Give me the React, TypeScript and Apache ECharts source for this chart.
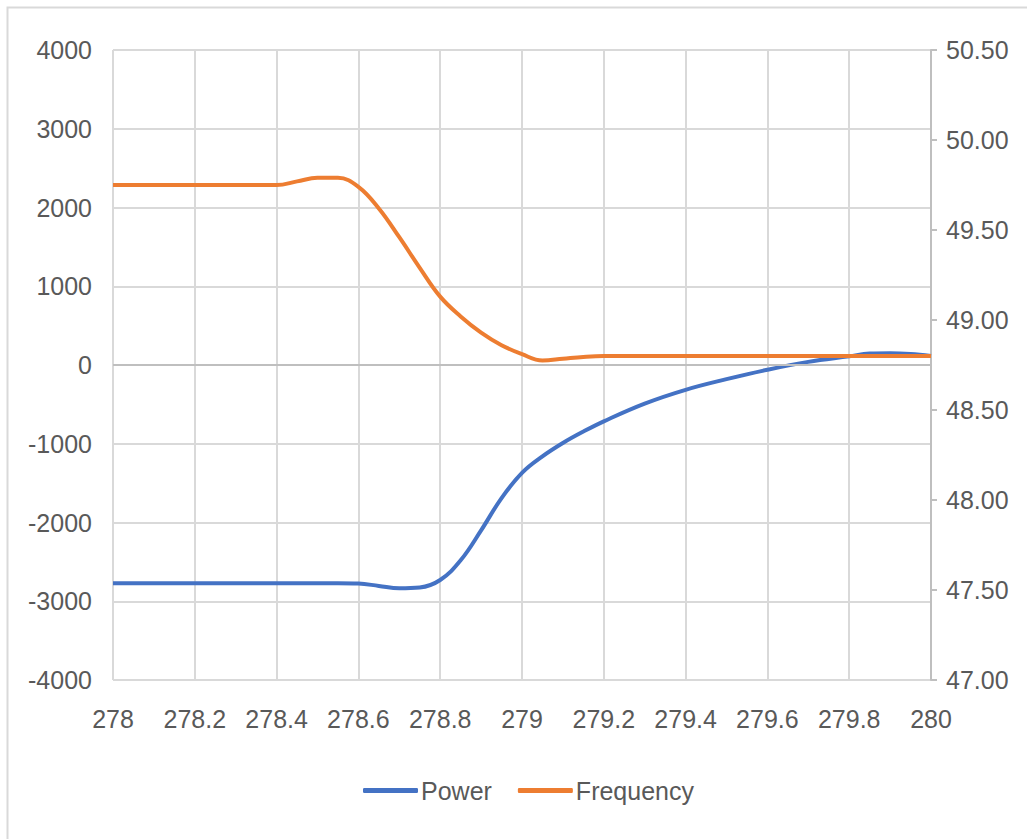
import React, { useEffect, useRef } from "react";
import * as echarts from "echarts";

const timeValues = [278, 278.2, 278.4, 278.45, 278.5, 278.55, 278.6, 278.65, 278.7, 278.75, 278.8, 278.85, 278.9, 278.95, 279, 279.05, 279.1, 279.15, 279.2, 279.3, 279.4, 279.5, 279.6, 279.7, 279.8, 279.85, 279.9, 279.95, 280];
const powerValues = [-2770, -2770, -2770, -2770, -2770, -2770, -2775, -2805, -2835, -2825, -2730, -2480, -2100, -1690, -1370, -1160, -990, -845, -715, -490, -315, -180, -60, 40, 110, 145, 150, 140, 115];
const frequencyValues = [49.75, 49.75, 49.75, 49.77, 49.79, 49.79, 49.74, 49.62, 49.46, 49.29, 49.13, 49.02, 48.93, 48.86, 48.81, 48.775, 48.785, 48.795, 48.8, 48.8, 48.8, 48.8, 48.8, 48.8, 48.8, 48.8, 48.8, 48.8, 48.8];
const seriesNames = ["Power", "Frequency"];

const FONT = "'Liberation Sans', Arial, sans-serif";
const TEXT = "#595959";
const FS = 25;

export default function App() {
  const ref = useRef<HTMLDivElement>(null);
  useEffect(() => {
    if (!ref.current) return;
    const chart = echarts.init(ref.current, undefined, { renderer: "svg" });
    const powerData = timeValues.map((t, i) => [t, powerValues[i]]);
    const freqData = timeValues.map((t, i) => [t, frequencyValues[i]]);
    chart.setOption({
      animation: false,
      backgroundColor: "#ffffff",
      graphic: [
        {
          type: "polyline",
          shape: { points: [[7.5, 845], [7.5, 7.5], [1030, 7.5]] },
          style: { stroke: "#d9d9d9", lineWidth: 2, fill: "none" },
          silent: true,
        },
      ],
      grid: { left: 113, right: 96, top: 50, bottom: 159, containLabel: false },
      legend: {
        data: seriesNames,
        left: 358,
        top: 773,
        icon: "roundRect",
        itemWidth: 55,
        itemHeight: 5,
        itemGap: 26,
        textStyle: { color: TEXT, fontSize: FS, fontFamily: FONT, padding: [0, 0, 0, -2] },
      },
      xAxis: {
        type: "value",
        min: 278,
        max: 280,
        interval: 0.2,
        axisLine: { show: false },
        axisTick: { show: false },
        splitLine: { show: true, lineStyle: { color: "#d9d9d9", width: 2 } },
        axisLabel: {
          color: TEXT,
          fontSize: FS,
          fontFamily: FONT,
          margin: 26,
          formatter: (v: number) => String(Number(v.toFixed(1))),
        },
      },
      yAxis: [
        {
          type: "value",
          min: -4000,
          max: 4000,
          interval: 1000,
          axisLine: { show: false },
          axisTick: { show: false },
          splitLine: { show: true, lineStyle: { color: "#d9d9d9", width: 2 } },
          axisLabel: {
            color: TEXT,
            fontSize: FS,
            fontFamily: FONT,
            margin: 21,
            formatter: (v: number) => String(v),
          },
        },
        {
          type: "value",
          min: 47,
          max: 50.5,
          interval: 0.5,
          position: "right",
          axisLine: { show: true, lineStyle: { color: "#bfbfbf", width: 2 } },
          axisTick: { show: true, length: 6, lineStyle: { color: "#bfbfbf", width: 2 } },
          splitLine: { show: false },
          axisLabel: {
            color: TEXT,
            fontSize: FS,
            fontFamily: FONT,
            margin: 15,
            formatter: (v: number) => v.toFixed(2),
          },
        },
      ],
      series: [
        {
          name: seriesNames[0],
          type: "line",
          yAxisIndex: 0,
          data: powerData,
          smooth: 0.4,
          symbol: "none",
          lineStyle: { color: "#4472C4", width: 4 },
          itemStyle: { color: "#4472C4" },
          markLine: {
            silent: true,
            symbol: "none",
            label: { show: false },
            lineStyle: { color: "#bfbfbf", width: 2, type: "solid" },
            data: [{ yAxis: 0 }],
          },
          z: 3,
        },
        {
          name: seriesNames[1],
          type: "line",
          yAxisIndex: 1,
          data: freqData,
          smooth: 0.4,
          symbol: "none",
          lineStyle: { color: "#ED7D31", width: 4 },
          itemStyle: { color: "#ED7D31" },
          z: 4,
        },
      ],
    });
    return () => chart.dispose();
  }, []);
  return (
    <div
      ref={ref}
      style={{ position: "fixed", left: 0, top: 0, width: 1027, height: 839, background: "#fff" }}
    />
  );
}
